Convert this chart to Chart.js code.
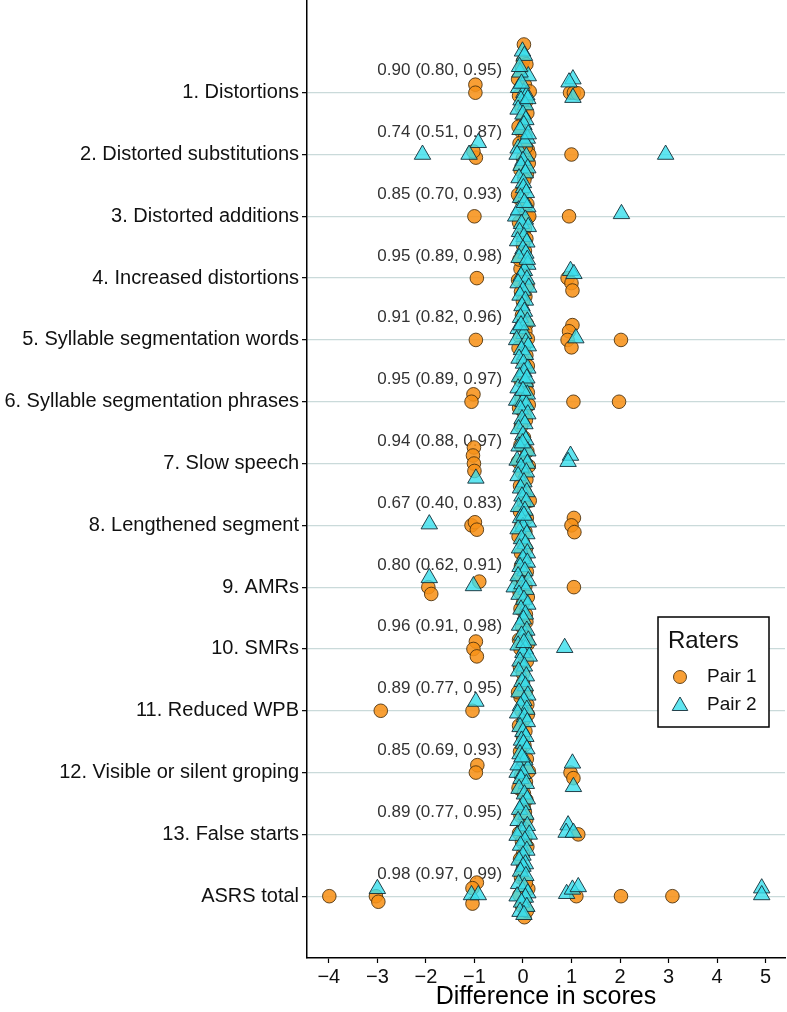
<!DOCTYPE html>
<html>
<head>
<meta charset="utf-8">
<script src="https://cdn.jsdelivr.net/npm/chart.js@4.4.1/dist/chart.umd.min.js"></script>
<style>
html,body{margin:0;padding:0;background:#fff;}
#wrap{width:787px;height:1012px;}
</style>
</head>
<body>
<div id="wrap"><canvas id="c" width="787" height="1012"></canvas></div>
<script>
// Categories, top to bottom
const categories = [
  "1. Distortions",
  "2. Distorted substitutions",
  "3. Distorted additions",
  "4. Increased distortions",
  "5. Syllable segmentation words",
  "6. Syllable segmentation phrases",
  "7. Slow speech",
  "8. Lengthened segment",
  "9. AMRs",
  "10. SMRs",
  "11. Reduced WPB",
  "12. Visible or silent groping",
  "13. False starts",
  "ASRS total"
];

// ICC (95% CI) labels per category
const iccLabels = [
  "0.90 (0.80, 0.95)", "0.74 (0.51, 0.87)", "0.85 (0.70, 0.93)", "0.95 (0.89, 0.98)",
  "0.91 (0.82, 0.96)", "0.95 (0.89, 0.97)", "0.94 (0.88, 0.97)", "0.67 (0.40, 0.83)",
  "0.80 (0.62, 0.91)", "0.96 (0.91, 0.98)", "0.89 (0.77, 0.95)", "0.85 (0.69, 0.93)",
  "0.89 (0.77, 0.95)", "0.98 (0.97, 0.99)"
];

const xTickValues = [-4, -3, -2, -1, 0, 1, 2, 3, 4, 5];

// Pair 1: per category, points as [difference (jittered), vertical jitter]
const pair1 = [
  [[-0.98,0.13],[-0.98,0.0],[0.97,0],[1.05,0],[1.13,-0.01],[0.02,0.78],[0.0,0.51],[-0.02,0.39],[0.04,0.13],[0.14,0.02],[-0.08,-0.05],[0.06,-0.15],[-0.03,-0.24],[0.09,-0.33],[-0.1,0.22],[0.01,-0.42],[0.07,0.46]],
  [[-0.97,-0.05],[-1.02,0.05],[1.0,0],[-0.03,0.37],[0.05,0.3],[-0.07,0.18],[0.1,0.08],[0.13,0.0],[0.0,-0.06],[0.12,-0.14],[-0.05,-0.25],[0.08,-0.32],[0.03,-0.41],[-0.09,0.45],[0.06,0.12]],
  [[-1.0,0],[0.95,0],[0.0,0.42],[-0.06,0.28],[0.09,0.2],[0.03,0.05],[0.1,-0.02],[0.13,0.0],[-0.08,-0.1],[0.04,-0.2],[-0.02,-0.3],[0.07,-0.36],[-0.1,0.35],[0.0,-0.47]],
  [[-0.95,0],[0.92,0],[1.0,-0.08],[1.02,-0.2],[0.04,0.44],[-0.02,0.35],[0.06,0.24],[-0.05,0.15],[0.02,0.05],[-0.1,-0.03],[0.09,-0.12],[-0.04,-0.22],[0.05,-0.3],[0.0,-0.38],[-0.07,0.3]],
  [[-0.97,0],[1.02,0.24],[0.95,0.14],[0.92,0],[1.0,-0.12],[2.02,0],[-0.02,0.4],[0.08,0.26],[0.05,0.14],[-0.06,0.05],[0.1,0.02],[0.04,-0.08],[-0.09,-0.13],[0.07,-0.25],[0.0,-0.34],[0.1,-0.42]],
  [[-1.02,0.12],[-1.06,0],[1.04,0],[1.98,0],[0.01,0.44],[-0.05,0.35],[0.07,0.27],[0.1,0.15],[-0.03,0.06],[0.12,-0.05],[-0.08,-0.1],[0.03,-0.2],[0.06,-0.3],[-0.04,-0.4]],
  [[-1.01,0.26],[-1.03,0.13],[-1.01,0],[-1.0,-0.12],[0.02,0.42],[-0.05,0.3],[0.09,0.2],[-0.1,0.03],[0.04,0.0],[0.12,-0.04],[-0.02,-0.15],[0.07,-0.26],[-0.06,-0.36],[0.03,-0.45]],
  [[-1.06,0],[-0.99,0.05],[-0.95,-0.07],[1.05,0.12],[1.0,0],[1.06,-0.11],[0.14,0.4],[0.02,0.35],[-0.06,0.22],[0.08,0.12],[-0.03,0.0],[0.05,-0.1],[-0.09,-0.18],[0.0,-0.28],[0.06,-0.38],[-0.04,-0.45]],
  [[-1.95,0],[-1.89,-0.11],[-0.9,0.09],[1.05,0],[0.03,0.45],[-0.04,0.34],[0.08,0.25],[-0.09,0.12],[0.05,0.02],[-0.07,-0.08],[0.1,-0.16],[0.0,-0.26],[-0.05,-0.35],[0.06,-0.44]],
  [[-0.97,0.12],[-1.02,0],[-0.95,-0.12],[0.07,0.44],[-0.02,0.36],[0.04,0.26],[-0.08,0.15],[0.1,0.08],[-0.05,0.0],[0.02,-0.1],[0.08,-0.2],[-0.06,-0.3],[0.0,-0.4],[0.05,0.2]],
  [[-2.93,0],[-1.04,0],[0.0,0.45],[0.06,0.32],[-0.05,0.22],[0.09,0.1],[-0.03,0.0],[0.1,-0.06],[0.02,-0.14],[-0.08,-0.24],[0.05,-0.33],[0.0,-0.42],[-0.1,0.3]],
  [[-0.94,0.12],[-0.97,0],[0.98,0],[1.04,-0.09],[0.03,0.44],[-0.06,0.34],[0.08,0.22],[0.0,0.12],[0.12,0.02],[-0.04,-0.05],[0.06,-0.15],[-0.09,-0.25],[0.02,-0.34],[0.07,-0.44]],
  [[1.14,0],[0.02,0.42],[-0.05,0.3],[0.07,0.24],[0.0,0.1],[-0.08,0.02],[0.05,-0.05],[-0.02,-0.12],[0.09,-0.2],[0.0,-0.32],[-0.06,-0.4],[0.04,0.36]],
  [[-3.99,0],[-3.03,0],[-2.98,-0.09],[-0.95,0.22],[-1.04,0.13],[-1.04,-0.12],[1.1,0],[2.02,0],[3.08,0],[0.11,0.12],[0.03,-0.34],[0.0,0.45],[-0.04,0.3],[0.06,0.22],[-0.07,0.02],[0.04,-0.06],[-0.02,-0.16],[0.08,-0.24]]
];

// Pair 2: per category, points as [difference (jittered), vertical jitter]
const pair2 = [
  [[1.03,0.22],[0.95,0.17],[1.03,-0.08],[-0.01,0.67],[0.03,0.6],[0.11,0.27],[-0.06,0.33],[-0.09,0.08],[0.02,0.0],[0.08,-0.04],[-0.04,-0.12],[0.05,-0.2],[-0.1,-0.27],[0.0,-0.35],[0.06,-0.44],[-0.03,0.15],[0.1,-0.1],[-0.07,0.42]],
  [[-2.07,0],[-1.11,0],[-0.92,0.19],[2.94,0],[0.02,0.48],[-0.06,0.4],[0.09,0.26],[-0.1,0.1],[0.04,0.2],[-0.12,0.0],[0.07,-0.03],[0.0,-0.1],[-0.04,-0.18],[0.1,-0.22],[0.05,-0.3],[-0.08,-0.38],[0.01,-0.46],[0.11,0.33]],
  [[2.03,0.04],[-0.15,0.0],[0.01,0.46],[0.07,0.38],[-0.05,0.3],[0.1,0.15],[-0.09,0.1],[0.03,0.22],[0.05,-0.05],[-0.03,-0.12],[0.11,-0.17],[-0.07,-0.25],[0.02,-0.33],[0.08,-0.42],[-0.11,-0.4]],
  [[0.98,0.12],[1.05,0.07],[0.0,0.47],[0.06,0.4],[-0.08,0.33],[0.1,0.22],[0.03,0.12],[-0.04,0.03],[0.08,-0.02],[-0.1,-0.08],[0.12,-0.15],[0.0,-0.2],[-0.06,-0.28],[0.05,-0.36],[-0.02,-0.45],[0.09,0.3]],
  [[1.09,0.03],[0.03,0.46],[-0.05,0.36],[0.09,0.3],[-0.1,0.18],[0.02,0.1],[-0.13,0.0],[0.06,-0.04],[0.11,-0.1],[-0.03,-0.16],[0.05,-0.24],[-0.08,-0.3],[0.01,-0.38],[0.1,-0.46],[-0.04,0.24]],
  [[0.02,0.48],[-0.07,0.4],[0.05,0.32],[-0.1,0.22],[0.09,0.12],[-0.13,0.02],[0.0,0.0],[0.07,-0.05],[-0.05,-0.12],[0.1,-0.2],[-0.02,-0.28],[0.04,-0.36],[-0.09,-0.44],[0.08,0.38],[0.0,0.18]],
  [[-0.97,-0.24],[0.98,0.13],[0.93,0.03],[0.0,0.46],[0.06,0.38],[-0.08,0.28],[0.1,0.2],[-0.12,0.05],[0.03,0.1],[0.09,0.0],[-0.04,-0.06],[0.07,-0.14],[-0.1,-0.2],[0.02,-0.3],[-0.05,-0.4],[0.08,-0.46],[-0.01,0.33]],
  [[-1.93,0.02],[-0.02,0.47],[0.07,0.38],[-0.09,0.3],[0.04,0.24],[-0.05,0.12],[0.11,0.05],[0.0,-0.02],[-0.1,-0.06],[0.08,-0.14],[-0.03,-0.22],[0.05,-0.3],[-0.07,-0.37],[0.09,-0.45],[0.02,0.16]],
  [[-1.93,0.15],[-1.02,0.02],[-0.18,0.0],[0.0,0.46],[0.09,0.4],[-0.06,0.33],[0.04,0.26],[-0.1,0.18],[0.11,0.1],[-0.02,0.05],[0.06,-0.04],[-0.08,-0.12],[0.02,-0.2],[0.1,-0.28],[-0.04,-0.36],[0.05,-0.44]],
  [[0.86,0.02],[0.01,0.48],[-0.07,0.38],[0.08,0.3],[-0.03,0.22],[0.11,0.14],[-0.1,0.06],[0.05,0.0],[0.0,-0.06],[0.13,-0.12],[-0.06,-0.2],[0.03,-0.28],[-0.09,-0.36],[0.07,-0.44],[0.02,0.1]],
  [[-0.97,0.15],[-0.02,0.47],[0.05,0.4],[-0.08,0.3],[0.1,0.25],[0.02,0.16],[-0.05,0.08],[0.08,0.02],[-0.11,-0.04],[0.03,-0.1],[0.09,-0.18],[-0.06,-0.26],[0.0,-0.34],[0.06,-0.42],[-0.03,-0.48]],
  [[1.02,0.15],[1.04,-0.23],[-0.12,0.0],[0.01,0.47],[0.08,0.38],[-0.06,0.3],[0.04,0.2],[-0.1,0.12],[0.1,0.06],[0.0,-0.02],[-0.04,-0.1],[0.07,-0.18],[-0.08,-0.26],[0.03,-0.35],[0.09,-0.43],[-0.02,0.25]],
  [[0.93,0.15],[0.89,0.03],[1.04,0.03],[0.0,0.48],[-0.07,0.4],[0.06,0.32],[-0.1,0.22],[0.09,0.14],[-0.03,0.06],[0.13,0.0],[-0.12,-0.02],[0.04,-0.1],[-0.05,-0.18],[0.08,-0.26],[0.0,-0.34],[-0.08,-0.42],[0.05,-0.48]],
  [[-3.0,0.12],[-1.06,0.02],[-0.92,0.02],[0.9,0.04],[1.02,0.11],[1.14,0.15],[4.92,0.13],[4.92,0.02],[0.0,0.48],[-0.05,0.4],[0.06,0.33],[-0.09,0.2],[0.03,0.15],[0.1,0.05],[-0.12,0.0],[0.05,-0.02],[-0.03,-0.1],[0.08,-0.17],[-0.06,-0.25],[0.02,-0.3]]
];

const nCat = categories.length;
function rowValue(i) { return nCat - i; }  // top category = highest value
function toPoints(rows) {
  const out = [];
  rows.forEach((pts, i) => pts.forEach(p => out.push({x: p[0], y: rowValue(i) + p[1]})));
  return out;
}

const FONT = "'Liberation Sans', Arial, Helvetica, sans-serif";
const ORANGE = 'rgba(247,146,25,0.88)';
const CYAN = 'rgba(56,222,236,0.8)';
const EDGE1 = 'rgba(70,45,10,0.85)';
const EDGE2 = 'rgba(20,45,55,0.9)';

const annotationPlugin = {
  id: 'iccText',
  beforeDatasetsDraw(chart) {
    const ctx = chart.ctx;
    const xs = chart.scales.x, ys = chart.scales.y;
    ctx.save();
    ctx.font = "17px " + FONT;
    ctx.fillStyle = '#333333';
    ctx.textAlign = 'right';
    ctx.textBaseline = 'middle';
    iccLabels.forEach((t, i) => {
      ctx.fillText(t, xs.getPixelForValue(-0.43), ys.getPixelForValue(rowValue(i) + 0.36));
    });
    ctx.restore();
  }
};

const legendPlugin = {
  id: 'boxLegend',
  afterDraw(chart) {
    const ctx = chart.ctx;
    ctx.save();
    const L = 658, T = 617, W = 111, H = 110;
    ctx.fillStyle = '#ffffff';
    ctx.fillRect(L, T, W, H);
    ctx.strokeStyle = '#000';
    ctx.lineWidth = 1.5;
    ctx.strokeRect(L, T, W, H);
    ctx.fillStyle = '#111';
    ctx.textAlign = 'left';
    ctx.textBaseline = 'middle';
    ctx.font = "24px " + FONT;
    ctx.fillText('Raters', L + 10, T + 24);
    ctx.font = "19px " + FONT;
    // Pair 1 marker
    ctx.beginPath();
    ctx.arc(L + 22, T + 60, 6.5, 0, Math.PI * 2);
    ctx.fillStyle = ORANGE; ctx.fill();
    ctx.lineWidth = 1; ctx.strokeStyle = EDGE1; ctx.stroke();
    // Pair 2 marker
    const cx = L + 22, cy = T + 89, r = 9;
    ctx.beginPath();
    ctx.moveTo(cx, cy - r);
    ctx.lineTo(cx + r * 0.866, cy + r * 0.5);
    ctx.lineTo(cx - r * 0.866, cy + r * 0.5);
    ctx.closePath();
    ctx.fillStyle = CYAN; ctx.fill(); ctx.strokeStyle = EDGE2; ctx.stroke();
    ctx.fillStyle = '#111';
    ctx.fillText('Pair 1', L + 49, T + 60);
    ctx.fillText('Pair 2', L + 49, T + 88);
    ctx.restore();
  }
};

new Chart(document.getElementById('c'), {
  type: 'scatter',
  data: {
    datasets: [
      {
        label: 'Pair 1',
        order: 2,
        data: toPoints(pair1),
        pointStyle: 'circle',
        pointRadius: 6.8,
        pointBackgroundColor: ORANGE,
        pointBorderColor: EDGE1,
        pointBorderWidth: 1
      },
      {
        label: 'Pair 2',
        order: 1,
        data: toPoints(pair2),
        pointStyle: 'triangle',
        pointRadius: 9.5,
        pointBackgroundColor: CYAN,
        pointBorderColor: EDGE2,
        pointBorderWidth: 1
      }
    ]
  },
  options: {
    responsive: false,
    animation: false,
    layout: { autoPadding: false, padding: { top: 0, right: 2, bottom: 0, left: 0 } },
    plugins: {
      legend: { display: false },
      tooltip: { enabled: false },
      title: { display: false }
    },
    scales: {
      x: {
        type: 'linear',
        min: -4.45,
        max: 5.4,
        afterBuildTicks(scale) { scale.ticks = xTickValues.map(v => ({ value: v })); },
        afterFit(scale) { scale.height = 54; scale.paddingRight = 0; },
        border: { display: true, color: '#000', width: 1.5 },
        grid: { drawOnChartArea: false, drawTicks: true, tickLength: 5, tickColor: '#000', tickWidth: 1.2 },
        ticks: {
          color: '#111',
          font: { family: FONT, size: 20 },
          padding: 2,
          maxRotation: 0,
          callback: v => (v < 0 ? '\u2212' + Math.abs(v) : String(v))
        },
        title: {
          display: true,
          text: 'Difference in scores',
          color: '#000',
          font: { family: FONT, size: 25 },
          padding: { top: 0, bottom: 0 }
        }
      },
      y: {
        type: 'linear',
        min: 0,
        max: 15.5,
        afterBuildTicks(scale) { scale.ticks = categories.map((c, i) => ({ value: rowValue(i) })); },
        afterFit(scale) { scale.width = 307; scale.paddingTop = 0; scale.paddingBottom = 0; },
        border: { display: true, color: '#000', width: 1.5 },
        grid: { drawOnChartArea: true, color: 'rgba(196,214,214,0.9)', lineWidth: 1.3, drawTicks: true, tickLength: 5, tickColor: '#000', tickWidth: 1.2 },
        ticks: {
          color: '#111',
          font: { family: FONT, size: 20 },
          padding: 3,
          autoSkip: false,
          callback: v => categories[nCat - v]
        }
      }
    }
  },
  plugins: [annotationPlugin, legendPlugin]
});
</script>
</body>
</html>
